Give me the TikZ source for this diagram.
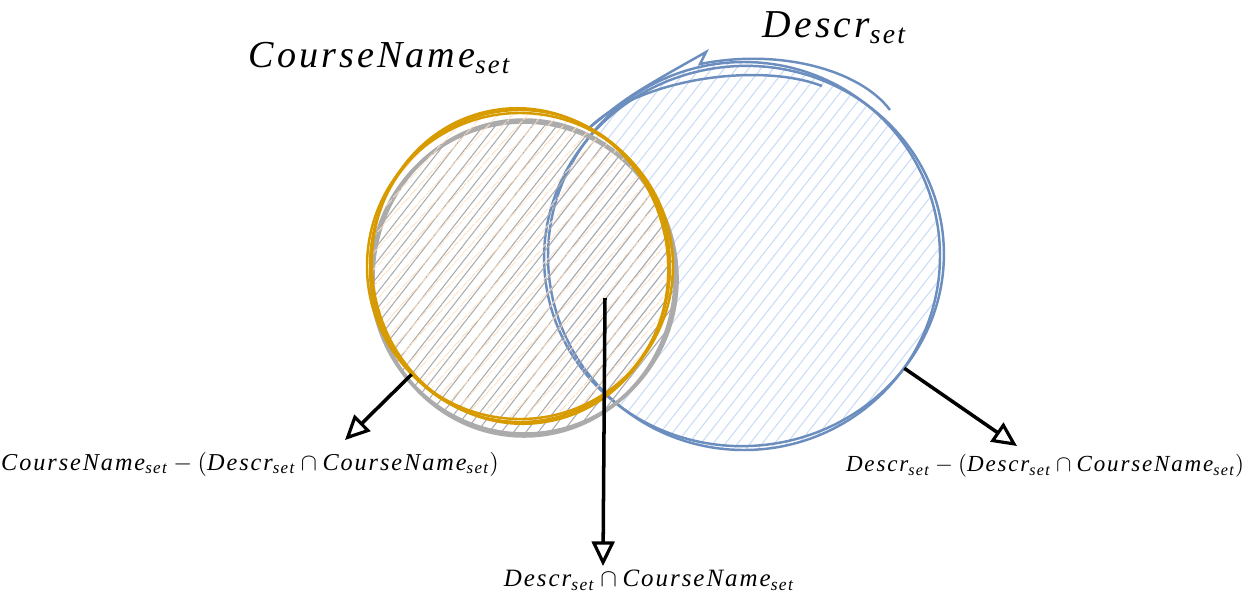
\documentclass[tikz,border=0pt]{standalone}
\usepackage{amsmath}
\usepackage{fontspec}
\setmainfont{Liberation Serif}[LetterSpace=8]
\usepackage{tikz}
\usetikzlibrary{arrows.meta,patterns.meta,shapes.geometric}
\definecolor{cnorange}{HTML}{D79B00}
\definecolor{cnfill}{HTML}{FFDDBB}
\definecolor{cngray}{HTML}{ABABAB}
\definecolor{dsblue}{HTML}{6C8EBF}
\definecolor{dsfill}{HTML}{C9DCF7}
\newcommand{\mv}[1]{\textit{#1}}
\tikzset{
 setshape/.style={ellipse, inner sep=0pt},
 hatch/.style={pattern={Lines[angle=52,distance=5.5pt,line width=0.6pt]},pattern color=#1},
 sketcharrow/.style={-{Triangle[open,length=14pt,width=13pt,line width=1.8pt]}, line width=2pt}
}
\begin{document}
\begin{tikzpicture}[x=0.02cm,y=-0.02cm]
\useasboundingbox (0,0) rectangle (1251,603);
% Descr set
\node[setshape, minimum width=7.84cm, minimum height=7.76cm, hatch=dsfill] (descr) at (744,256) {};
\foreach \r/\a in {0/0,4/6} {
\draw[dsblue, line width=1.4pt, rotate around={\a:(744,256)}] (744,256) ellipse ({196+\r} and {194-\r});}
\draw[dsblue, line width=1.4pt] (589,128) .. controls (630,95) .. (706,52) -- (700,64) .. controls (780,48) and (860,70) .. (890,110);
\draw[dsblue, line width=1.4pt] (589,128) .. controls (640,78) and (760,62) .. (822,86);
% CourseName set
\node[setshape, minimum width=6.04cm, minimum height=6.32cm, hatch=cngray] (cngr) at (524,278) {};
\foreach \r/\a in {0/0,2/7} {
\draw[cngray, line width=2pt, rotate around={\a:(524,278)}] (524,278) ellipse ({151+\r} and {158-\r});}
\node[setshape, minimum width=6cm, minimum height=6.24cm, pattern={Lines[angle=48,distance=6.5pt,line width=0.6pt]}, pattern color=cnfill] (cname) at (520,266) {};
\foreach \r/\a in {0/0,3/-6,-2/9} {
\draw[cnorange, line width=1.4pt, rotate around={\a:(520,266)}] (520,266) ellipse ({150+\r} and {156-\r});}
% titles
\node[scale=2.17] (cntitle) at (380,58) {$\mv{CourseName}_{\mv{set}}$};
\node[scale=2.25] (dstitle) at (835,28) {$\mv{Descr}_{\mv{set}}$};
% labels
\node[scale=1.38] (leftlbl) at (250,464) {$\mv{CourseName}_{\mv{set}}-(\mv{Descr}_{\mv{set}}\cap \mv{CourseName}_{\mv{set}})$};
\node[scale=1.31] (rightlbl) at (1045,466) {$\mv{Descr}_{\mv{set}}-(\mv{Descr}_{\mv{set}}\cap \mv{CourseName}_{\mv{set}})$};
\node[scale=1.42] (midlbl) at (649,580) {$\mv{Descr}_{\mv{set}}\cap \mv{CourseName}_{\mv{set}}$};
\coordinate (lefttip) at (345,440);
\coordinate (midstart) at (605,298);
\coordinate (midtip) at (603,566);
\coordinate (righttip) at (1017,446);
\draw[sketcharrow] (cname.225) -- (lefttip);
\draw[sketcharrow] (midstart) -- (midtip);
\draw[sketcharrow] (descr.325) -- (righttip);
\end{tikzpicture}
\end{document}
